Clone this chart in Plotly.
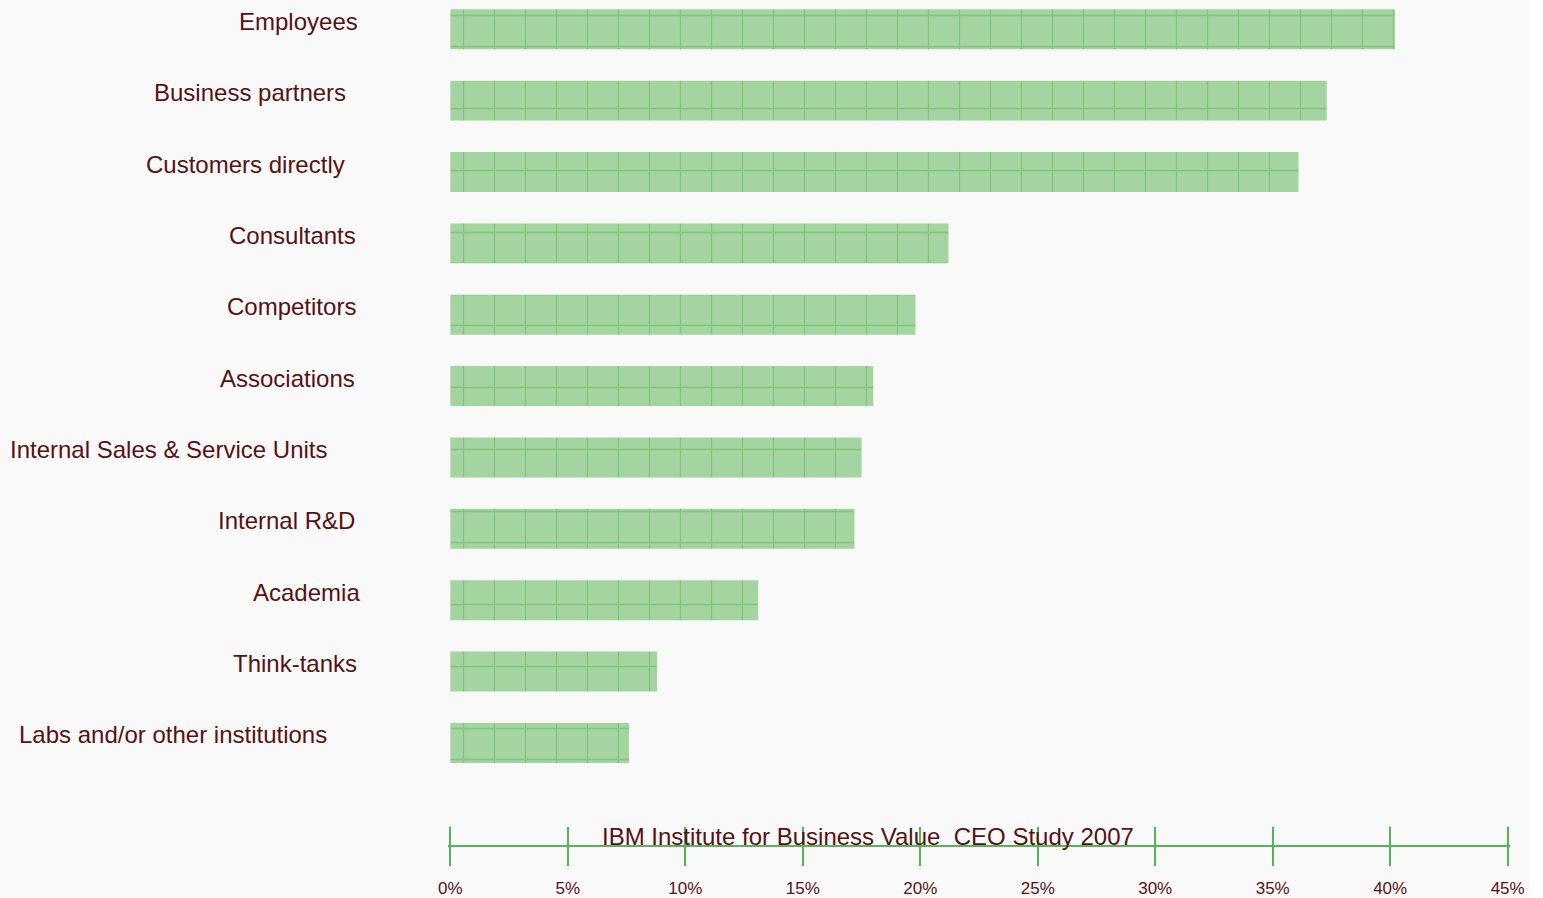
import plotly.graph_objects as go

categories = ["Employees", "Business partners", "Customers directly", "Consultants",
              "Competitors", "Associations", "Internal Sales & Service Units",
              "Internal R&D", "Academia", "Think-tanks", "Labs and/or other institutions"]
values = [40.2, 37.3, 36.1, 21.2, 19.8, 18.0, 17.5, 17.2, 13.1, 8.8, 7.6]
tick_values = [0, 5, 10, 15, 20, 25, 30, 35, 40, 45]
tick_labels = ["0%", "5%", "10%", "15%", "20%", "25%", "30%", "35%", "40%", "45%"]
title_text = "IBM Institute for Business Value\u00a0 CEO Study 2007"

# layout constants
W, H = 1543, 898
PX_PER_UNIT = 1058 / 45.0
PAD = 0.1                      # small range padding so end ticks are drawn
L = 450 - PAD * PX_PER_UNIT
R = 35 - PAD * PX_PER_UNIT
T, B = 0, 53
plot_w = W - L - R
label_right_px = [360, 348, 347, 358, 358, 357, 329, 357, 362, 359, 329]

TEXT = "#561212"
GREEN = "#55b455"
FONT = "Liberation Sans, Arial, sans-serif"


def px_to_paper_x(px):
    return (px - L) / plot_w


fig = go.Figure()
fig.add_trace(go.Bar(
    x=values, y=categories, orientation="h",
    marker=dict(color="#a4d49f", line=dict(width=0),
                pattern=dict(shape="+", fgcolor="#5db55d", size=31, solidity=0.08,
                             fillmode="overlay")),
    showlegend=False, hoverinfo="skip"))
fig.add_trace(go.Scatter(x=[0, 45], y=[categories[0]] * 2, xaxis="x2", mode="none",
                         showlegend=False, hoverinfo="skip"))

annotations = []
for cat, rp in zip(categories, label_right_px):
    annotations.append(dict(x=px_to_paper_x(rp), xref="paper", y=cat, yref="y",
                            text=cat, showarrow=False, xanchor="right", yanchor="middle",
                            yshift=8, font=dict(family=FONT, size=24, color=TEXT)))
annotations.append(dict(x=px_to_paper_x(868), xref="paper", y=(845 - 836) / 845, yref="paper",
                        text=title_text, showarrow=False, xanchor="center", yanchor="middle",
                        font=dict(family=FONT, size=24, color=TEXT)))

xr = [-PAD, 45 + PAD]
fig.update_layout(
    width=W, height=H,
    margin=dict(l=L, r=R, t=T, b=B),
    paper_bgcolor="#f9f9f9", plot_bgcolor="#f9f9f9",
    bargap=0.44,
    annotations=annotations,
    xaxis=dict(range=xr, tickvals=tick_values, ticktext=tick_labels,
               ticks="outside", ticklen=19, tickwidth=2, tickcolor=GREEN,
               showline=True, linecolor=GREEN, linewidth=2, showgrid=False, zeroline=False,
               tickfont=dict(family=FONT, size=17, color=TEXT), ticklabelstandoff=8,
               fixedrange=True),
    xaxis2=dict(range=xr, overlaying="x", anchor="y", side="bottom",
                tickvals=tick_values, ticks="inside", ticklen=18, tickwidth=2,
                tickcolor=GREEN, showticklabels=False, showline=False, showgrid=False,
                zeroline=False),
    yaxis=dict(categoryorder="array", categoryarray=categories,
               range=[len(categories) - 1 + 1.43, -0.41], showticklabels=False,
               showgrid=False, zeroline=False, showline=False, ticks=""),
    shapes=[dict(type="rect", xref="paper", yref="paper",
                 x0=px_to_paper_x(1530), x1=1.2, y0=-0.2, y1=1.2,
                 fillcolor="#ffffff", line=dict(width=0), layer="below")],
)

fig.write_html("out.html")
